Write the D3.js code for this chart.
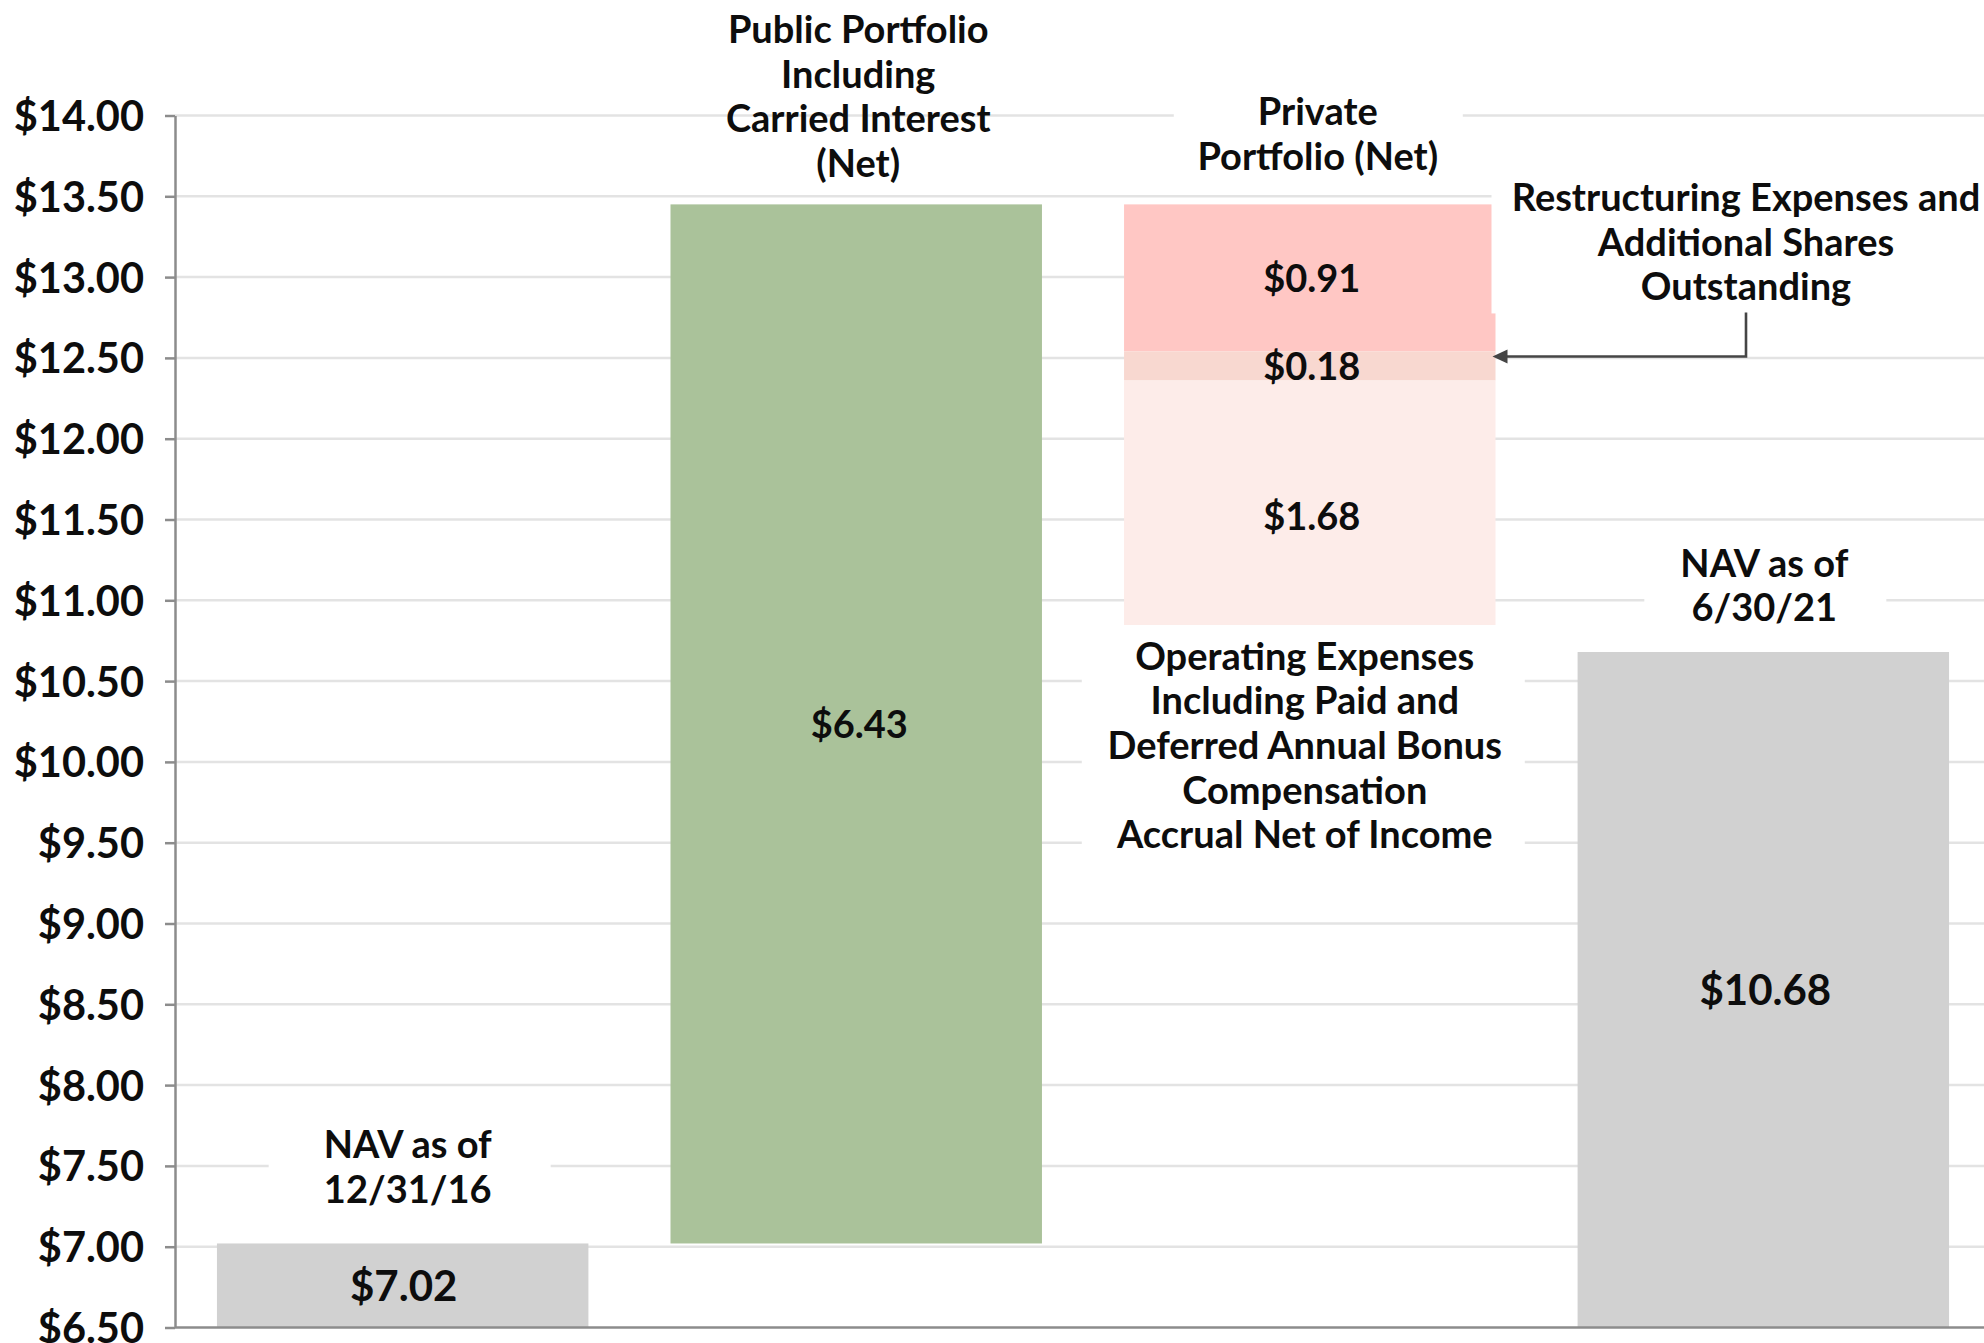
<!DOCTYPE html>
<html>
<head>
<meta charset="utf-8">
<script src="https://cdn.jsdelivr.net/npm/d3@7"></script>
<style>
  html, body { margin: 0; padding: 0; background: #ffffff; }
  svg { display: block; }
  text { font-family: "Lato", "Open Sans", sans-serif; font-weight: 700; fill: #0d0d0d; }
</style>
</head>
<body>
<svg id="chart" width="1984" height="1343"></svg>
<script>
// ---------------- data ----------------
const categories = ["NAV 12/31/16", "Public Portfolio", "Private Portfolio", "NAV 6/30/21"];
const startNav = 7.02;
const publicPortfolioNet = 6.43;
const privateSegments = [0.91, 0.18, 1.68];          // deductions, top to bottom
const privateSegmentLabels = ["$0.91", "$0.18", "$1.68"];
const endNav = 10.68;
const yTickValues = [6.5, 7, 7.5, 8, 8.5, 9, 9.5, 10, 10.5, 11, 11.5, 12, 12.5, 13, 13.5, 14];

const nav1Lines = ["NAV as of", "12/31/16"];
const publicLines = ["Public Portfolio", "Including", "Carried Interest", "(Net)"];
const privateLines = ["Private", "Portfolio (Net)"];
const nav2Lines = ["NAV as of", "6/30/21"];
const opexLines = ["Operating Expenses", "Including Paid and", "Deferred Annual Bonus", "Compensation", "Accrual Net of Income"];
const restructLines = ["Restructuring Expenses and", "Additional Shares", "Outstanding"];

// ---------------- setup ----------------
const W = 1984, H = 1343;
const svg = d3.select("#chart");
const FONT = 38, LH = 44.7;

const y = d3.scaleLinear().domain([6.5, 14]).range([1327.5, 115.5]);
const x = d3.scaleBand().domain(categories).range([175, 1991])
  .paddingInner(0.181).paddingOuter(0.0925);
const bw = x.bandwidth();
const cx = c => x(c) + bw / 2;

// gridlines
svg.append("g").selectAll("line").data(yTickValues.filter(v => v > 6.5)).join("line")
  .attr("x1", 175).attr("x2", W)
  .attr("y1", d => y(d)).attr("y2", d => y(d))
  .attr("stroke", "#e3e3e3").attr("stroke-width", 2.5);

// ---------------- bars ----------------
const publicTop = startNav + publicPortfolioNet;
let acc = publicTop;
const privRects = privateSegments.map((v, i) => {
  const top = acc; acc -= v;
  return { top, bottom: acc, label: privateSegmentLabels[i], i };
});
const barData = [
  { cat: categories[0], top: startNav, bottom: 6.5, fill: "#d1d1d1", label: "$" + startNav.toFixed(2), fs: 42, dx: 1 },
  { cat: categories[1], top: publicTop, bottom: startNav, fill: "#aac29a", label: "$" + publicPortfolioNet.toFixed(2), fs: 38, dx: 3 },
  { cat: categories[3], top: endNav, bottom: 6.5, fill: "#d1d1d1", label: "$" + endNav.toFixed(2), fs: 42, dx: 2 }
];
const privFills = ["#ffc7c4", "#f8d8d0", "#fdece9"];

const gBars = svg.append("g");
gBars.selectAll("rect.main").data(barData).join("rect").attr("class", "main")
  .attr("x", d => x(d.cat)).attr("width", bw)
  .attr("y", d => y(d.top)).attr("height", d => y(d.bottom) - y(d.top))
  .attr("fill", d => d.fill);
gBars.selectAll("rect.priv").data(privRects).join("rect").attr("class", "priv")
  .attr("x", x(categories[2])).attr("width", bw)
  .attr("y", d => y(d.top)).attr("height", d => y(d.bottom) - y(d.top))
  .attr("fill", d => privFills[d.i]);

// ---------------- axis ----------------
const axis = d3.axisLeft(y).tickValues(yTickValues).tickSize(10).tickSizeOuter(0).tickPadding(21)
  .tickFormat(d => "$" + d.toFixed(2));
const gAxis = svg.append("g").attr("transform", "translate(175,0)").call(axis);
gAxis.select(".domain").attr("stroke", "#8c8c8c").attr("stroke-width", 2.5);
gAxis.selectAll(".tick line").attr("stroke", "#8c8c8c").attr("stroke-width", 2.5);
gAxis.selectAll(".tick text").attr("font-size", 41.5).attr("font-family", "Lato")
  .attr("font-weight", 700).attr("fill", "#0d0d0d").attr("dy", "0.36em");
svg.append("line").attr("x1", 175).attr("x2", W).attr("y1", y(6.5)).attr("y2", y(6.5))
  .attr("stroke", "#8c8c8c").attr("stroke-width", 2.5);

// ---------------- label boxes (white) + arrow ----------------
const gBoxes = svg.append("g");
function box(x0, y0, x1, y1) {
  gBoxes.append("rect").attr("x", x0).attr("y", y0).attr("width", x1 - x0).attr("height", y1 - y0).attr("fill", "#ffffff");
}
box(cx(categories[0]) - 134, y(startNav) - 132, cx(categories[0]) + 148, y(startNav) - 25);
box(cx(categories[2]) - 136, y(publicTop) - 128, cx(categories[2]) + 153, y(publicTop) - 14);
box(cx(categories[3]) - 119, y(endNav) - 123, cx(categories[3]) + 123, y(endNav) - 10);
box(cx(categories[2]) - 228, y(endNav) - 27, cx(categories[2]) + 215, y(endNav) + 216);
box(x(categories[2]) + bw - 4, y(publicTop) - 45, W + 20, y(privRects[1].top) - 38);

// arrow
const arrowY = y(privRects[1].top) + 5;
const arrowX = 1746;
const arrowTip = x(categories[2]) + bw - 3;
svg.append("path")
  .attr("d", `M${arrowX},${arrowY - 44} L${arrowX},${arrowY} L${arrowTip + 12},${arrowY}`)
  .attr("fill", "none").attr("stroke", "#454545").attr("stroke-width", 2.6);
svg.append("path")
  .attr("d", `M${arrowTip},${arrowY} L${arrowTip + 15},${arrowY - 7} L${arrowTip + 15},${arrowY + 7} Z`)
  .attr("fill", "#454545");

// ---------------- text ----------------
const gText = svg.append("g");
function lines(arr, xc, firstCenter) {
  arr.forEach((t, i) => {
    gText.append("text").attr("x", xc).attr("y", firstCenter + i * LH).attr("dy", "0.36em")
      .attr("text-anchor", "middle").attr("font-size", FONT).text(t);
  });
}
lines(nav1Lines, cx(categories[0]) + 5, y(startNav) - 99);
lines(publicLines, cx(categories[1]) + 2, y(publicTop) - 175);
lines(privateLines, cx(categories[2]) + 8, y(publicTop) - 93);
lines(nav2Lines, cx(categories[3]) + 1, y(endNav) - 89);
lines(opexLines, cx(categories[2]) - 5, y(endNav) + 4);
lines(restructLines, arrowX, y(publicTop) - 7);

// value labels
gText.selectAll("text.val").data(barData).join("text").attr("class", "val")
  .attr("x", d => cx(d.cat) + d.dx).attr("y", d => (y(d.top) + y(d.bottom)) / 2).attr("dy", "0.36em")
  .attr("text-anchor", "middle").attr("font-size", d => d.fs).text(d => d.label);
gText.selectAll("text.pval").data(privRects).join("text").attr("class", "pval")
  .attr("x", cx(categories[2]) + 2).attr("y", d => (y(d.top) + y(d.bottom)) / 2).attr("dy", "0.36em")
  .attr("text-anchor", "middle").attr("font-size", FONT).text(d => d.label);
</script>
</body>
</html>
